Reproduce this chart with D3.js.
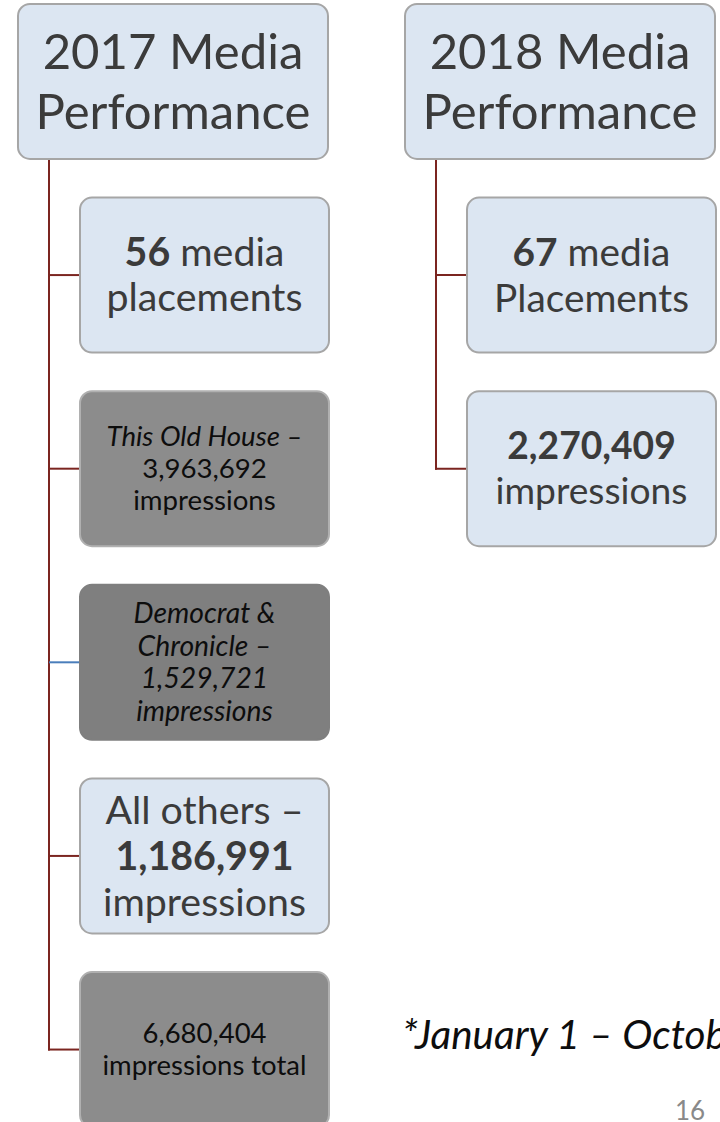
<!DOCTYPE html>
<html><head><meta charset="utf-8">
<script src="https://cdn.jsdelivr.net/npm/d3@7"></script>
<style>body{margin:0;background:#fff;overflow:hidden}svg{display:block;font-family:Lato,"Open Sans",sans-serif}</style>
</head><body><script>
// ---- data ----
const years = ["2017", "2018"];
const placements = [56, 67];
const outlets2017 = ["This Old House", "Democrat & Chronicle", "All others"];
const impressions2017 = [3963692, 1529721, 1186991];
const total2017 = [6680404];
const impressions2018 = [2270409];
const footnote = "*January 1 – October";
const pageNumber = "16";

const fmt = d3.format(",");

// ---- node content (built from data) ----
const seg = (t, o = {}) => Object.assign({ t }, o);
const nodes = [
  { col: 0, row: 0, kind: "header", lines: [[seg(years[0] + " Media")], [seg("Performance")]] },
  { col: 0, row: 1, kind: "light", lines: [[seg(String(placements[0]), { b: 1 }), seg(" media")], [seg("placements")]] },
  { col: 0, row: 2, kind: "gray", lines: [[seg(outlets2017[0] + " –", { i: 1 })], [seg(fmt(impressions2017[0]))], [seg("impressions")]] },
  { col: 0, row: 3, kind: "dark", link: "blue", lines: outlets2017[1].replace("& ", "&\n").split("\n").map((s, k, a) => [seg(s + (k === a.length - 1 ? " –" : ""), { i: 1 })]).concat([[seg(fmt(impressions2017[1]), { i: 1 })], [seg("impressions", { i: 1 })]]) },
  { col: 0, row: 4, kind: "light", lines: [[seg(outlets2017[2] + " –")], [seg(fmt(impressions2017[2]), { b: 1 })], [seg("impressions")]] },
  { col: 0, row: 5, kind: "gray", lines: [[seg(fmt(total2017[0]))], [seg("impressions total")]] },
  { col: 1, row: 0, kind: "header", lines: [[seg(years[1] + " Media")], [seg("Performance")]] },
  { col: 1, row: 1, kind: "light", lines: [[seg(String(placements[1]), { b: 1 }), seg(" media")], [seg("Placements")]] },
  { col: 1, row: 2, kind: "light", lines: [[seg(fmt(impressions2018[0]), { b: 1 })], [seg("impressions")]] },
];

// ---- styling / layout (not data) ----
const fitSpec = [ // [fit line index, target width px, line spacing px]
  [1, 275, 60], [1, 196, 45], [0, 196, 32], [0, 142, 32.5], [2, 203, 46], [1, 204, 32],
  [1, 275, 60], [1, 195, 46], [1, 192, 45]
];
const kindStyle = {
  header: { fill: "#dce6f2", stroke: "#a6a6a6", text: "#3b3b3b" },
  light: { fill: "#dce6f2", stroke: "#a6a6a6", text: "#3b3b3b" },
  gray: { fill: "#8c8c8c", stroke: "#b0b0b0", text: "#0d0d0d" },
  dark: { fill: "#7f7f7f", stroke: "#7f7f7f", text: "#0d0d0d" },
};
const linkColor = { red: "#7b2520", blue: "#4a7ebb" };

const W = 720, H = 1122;
const svg = d3.select("body").append("svg").attr("width", W).attr("height", H);

const x = d3.scaleBand().domain(d3.range(years.length)).range([18, 715]).paddingInner(0.199).paddingOuter(0);
const y = d3.scaleBand().domain(d3.range(6)).range([4, 1127]).paddingInner(0.2).paddingOuter(0);
const indent = 62;

function boxOf(n) {
  const bx = n.row === 0 ? x(n.col) : x(n.col) + indent;
  const bw = n.row === 0 ? x.bandwidth() : x.bandwidth() - indent + 1;
  return { x: bx, y: y(n.row), w: bw, h: y.bandwidth() };
}

// connectors
const gLinks = svg.append("g");
years.forEach((yr, c) => {
  const kids = nodes.filter(n => n.col === c && n.row > 0);
  const lx = x(c) + 31;
  const lastY = y(d3.max(kids, k => k.row)) + y.bandwidth() / 2;
  gLinks.append("line").attr("x1", lx).attr("x2", lx)
    .attr("y1", y(0) + y.bandwidth()).attr("y2", lastY + 1)
    .attr("stroke", linkColor.red).attr("stroke-width", 2);
  kids.forEach(k => {
    const b = boxOf(k);
    gLinks.append("line").attr("x1", lx - (k.link ? 0 : 1)).attr("x2", b.x)
      .attr("y1", b.y + b.h / 2).attr("y2", b.y + b.h / 2)
      .attr("stroke", linkColor[k.link || "red"]).attr("stroke-width", 2);
  });
});

// boxes
nodes.forEach((n, idx) => {
  const b = boxOf(n);
  const st = kindStyle[n.kind];
  const g = svg.append("g");
  g.append("rect").attr("x", b.x).attr("y", b.y).attr("width", b.w).attr("height", b.h)
    .attr("rx", 12).attr("ry", 12)
    .attr("fill", st.fill).attr("stroke", st.stroke).attr("stroke-width", 2);
  const [fitLine, fitW, lh] = fitSpec[idx];
  const tg = g.append("g").attr("font-size", 100).attr("fill", st.text).attr("text-anchor", "middle");
  const texts = n.lines.map(line => {
    const t = tg.append("text");
    line.forEach(s => {
      t.append("tspan").text(s.t)
        .attr("font-weight", s.b ? 700 : 400)
        .attr("font-style", s.i ? "italic" : "normal");
    });
    return t;
  });
  const measured = texts[fitLine].node().getComputedTextLength();
  const fs = 100 * fitW / measured;
  tg.attr("font-size", fs);
  const cx = b.x + b.w / 2, cy = b.y + b.h / 2;
  const k = texts.length;
  texts.forEach((t, i) => {
    t.attr("x", cx).attr("y", cy + (i - (k - 1) / 2) * lh + 0.35 * fs);
  });
});

// footnote
const fn = svg.append("text").attr("x", 402).attr("y", 1049)
  .attr("font-style", "italic").attr("fill", "#0d0d0d").attr("font-size", 100).text("*January 1");
const fnW = fn.node().getComputedTextLength();
fn.attr("font-size", 100 * 178 / fnW).text(footnote);

// page number
svg.append("text").attr("x", 690).attr("y", 1120).attr("text-anchor", "middle")
  .attr("font-size", 26).attr("fill", "#898989").text(pageNumber);
</script></body></html>
